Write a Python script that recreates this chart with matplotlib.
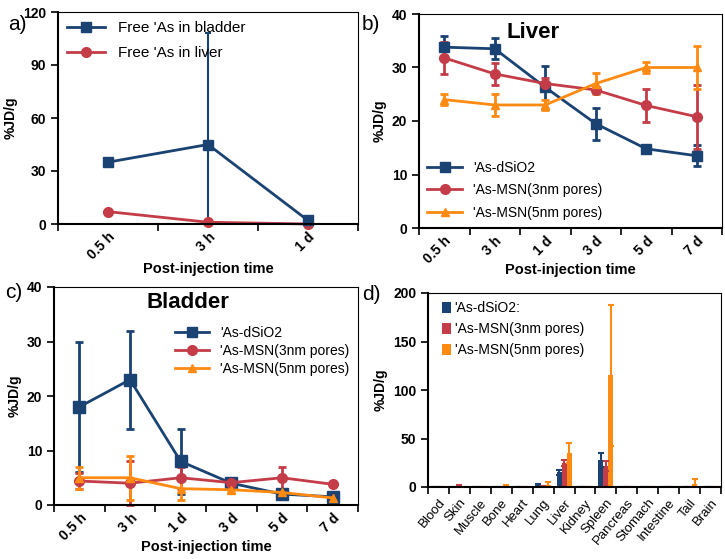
import numpy as np
import matplotlib
matplotlib.use('Agg')
import matplotlib.pyplot as plt
from matplotlib.lines import Line2D

plt.rcParams['font.family'] = ['Liberation Sans', 'DejaVu Sans']

# 颜色
c_blue = '#1a4272'
c_red = '#c33c48'
c_orange = '#ff8a12'

# a) 游离 As
times_a = ['0.5 h', '3 h', '1 d']
bladder_free = [35, 45, 2]
bladder_free_err = [0, 63, 0]
liver_free = [7, 1, 0]

# b) 肝脏
times = ['0.5 h', '3 h', '1 d', '3 d', '5 d', '7 d']
liver_dsio2 = [33.8, 33.5, 26.3, 19.5, 14.8, 13.5]
liver_dsio2_err = [2, 2, 4, 3, 0.5, 2]
liver_msn3 = [31.8, 28.8, 27.0, 25.8, 22.9, 20.8]
liver_msn3_err = [3, 2, 1, 0.5, 3, 6]
liver_msn5 = [24.0, 23.0, 23.0, 27.0, 30.0, 30.0]
liver_msn5_err = [1, 2, 1, 2, 1, 4]

# c) 膀胱
bladder_dsio2 = [18, 23, 8, 4, 2, 1.5]
bladder_dsio2_err = [12, 9, 6, 0.5, 0.5, 0.3]
bladder_msn3 = [4.4, 4.0, 5.0, 4.1, 5.0, 3.8]
bladder_msn3_err = [1.5, 4, 2, 0.3, 2, 0.3]
bladder_msn5 = [5.0, 5.0, 3.0, 2.8, 2.3, 1.3]
bladder_msn5_err = [2, 4, 2, 0.5, 0.5, 0.5]

# d) 组织分布
organs = ['Blood', 'Skin', 'Muscle', 'Bone', 'Heart', 'Lung', 'Liver', 'Kidney',
          'Spleen', 'Pancreas', 'Stomach', 'Intestine', 'Tail', 'Brain']
org_dsio2 = [0, 0.5, 0, 0.5, 0.3, 2.5, 15, 0, 28, 0, 0, 0, 0, 0]
org_dsio2_err = [0, 0, 0, 0, 0, 0.5, 3, 0, 7, 0, 0, 0, 0, 0]
org_msn3 = [0, 1.5, 0, 0.5, 0.5, 1.0, 25, 0, 22, 0, 0, 0, 0, 0]
org_msn3_err = [0, 0.3, 0, 0, 0, 0, 3, 0, 5, 0, 0, 0, 0, 0]
org_msn5 = [0, 0, 0, 1.5, 0.3, 2.5, 35, 0, 115, 0, 0, 0, 3, 0]
org_msn5_err = [0, 0, 0, 0.3, 0, 3, 10, 0, 73, 0, 0, 0, 5, 0]

lab_free_b = "Free \u02b9As in bladder"
lab_free_l = "Free \u02b9As in liver"
lab_d = "\u02b9As-dSiO2"
lab_3 = "\u02b9As-MSN(3nm pores)"
lab_5 = "\u02b9As-MSN(5nm pores)"

fig = plt.figure(figsize=(7.25, 5.59), dpi=100)


def spines(ax):
    for sp in ['left', 'bottom']:
        ax.spines[sp].set_linewidth(1.5)
    for sp in ['right', 'top']:
        ax.spines[sp].set_linewidth(0.8)


def style_ax(ax, ncat, labels, yticks, ylim):
    ax.set_xlim(0, ncat)
    ax.set_xticks(np.arange(ncat + 1))
    ax.set_xticklabels([])
    ax.set_xticks(np.arange(ncat) + 0.5, minor=True)
    ax.set_xticklabels(labels, minor=True, rotation=45, ha='right',
                       rotation_mode='anchor', fontsize=10, fontweight='bold')
    ax.tick_params(axis='x', which='minor', length=0, pad=4)
    ax.tick_params(axis='x', which='major', length=5, direction='out', width=1.2)
    ax.set_ylim(*ylim)
    ax.set_yticks(yticks)
    ax.set_yticklabels([str(t) for t in yticks], fontsize=10, fontweight='bold')
    ax.tick_params(axis='y', length=5, direction='out', width=1.2)
    spines(ax)
    ax.set_ylabel('%JD/g', fontsize=10, fontweight='bold')


def line_err(ax, x, y, e, color, marker, ms):
    ax.errorbar(x, y, yerr=e, color=color, marker=marker, ms=ms, lw=2,
                elinewidth=2, capsize=3, capthick=2, clip_on=False)


def leg_handles(specs):
    return [Line2D([0], [0], color=c, marker=m, ms=ms, lw=2) for c, m, ms in specs]


spec3 = [(c_blue, 's', 7), (c_red, 'o', 7), (c_orange, '^', 6)]

# a
axa = fig.add_axes([58 / 725, 1 - 224 / 559, 300 / 725, 212 / 559])
xa = np.arange(len(times_a)) + 0.5
axa.errorbar(xa, bladder_free, yerr=[[min(v, e) for v, e in zip(bladder_free, bladder_free_err)], bladder_free_err],
             color=c_blue, marker='s', ms=7, lw=2, elinewidth=1.5, capsize=2, capthick=1.5,
             clip_on=False)
axa.plot(xa, liver_free, color=c_red, marker='o', ms=7, lw=2, clip_on=False)
style_ax(axa, 3, times_a, [0, 30, 60, 90, 120], (0, 120))
axa.set_xlabel('Post-injection time', fontsize=10.5, fontweight='bold', labelpad=0)
axa.legend(leg_handles(spec3[:2]), [lab_free_b, lab_free_l], loc='upper left',
           frameon=False, fontsize=11, handlelength=2.5, borderaxespad=0.2, labelspacing=0.7)
fig.text(8 / 725, 1 - 24 / 559, 'a)', fontsize=15, va='center')

# b
axb = fig.add_axes([419 / 725, 1 - 228 / 559, 303 / 725, 214 / 559])
xb = np.arange(len(times)) + 0.5
line_err(axb, xb, liver_dsio2, liver_dsio2_err, c_blue, 's', 7)
line_err(axb, xb, liver_msn3, liver_msn3_err, c_red, 'o', 7)
line_err(axb, xb, liver_msn5, liver_msn5_err, c_orange, '^', 6)
style_ax(axb, 6, times, [0, 10, 20, 30, 40], (0, 40))
axb.set_xlabel('Post-injection time', fontsize=10.5, fontweight='bold', labelpad=-2)
axb.text(0.375, 0.915, 'Liver', transform=axb.transAxes, fontsize=16,
         fontweight='bold', ha='center', va='center')
axb.legend(leg_handles(spec3), [lab_d, lab_3, lab_5], loc='lower left', frameon=False,
           fontsize=10, handlelength=2.5, borderaxespad=0.2, labelspacing=0.6)
fig.text(362 / 725, 1 - 24 / 559, 'b)', fontsize=15, va='center')

# c
axc = fig.add_axes([54 / 725, 1 - 505 / 559, 304 / 725, 218 / 559])
line_err(axc, xb, bladder_dsio2, bladder_dsio2_err, c_blue, 's', 8)
line_err(axc, xb, bladder_msn3, bladder_msn3_err, c_red, 'o', 7)
line_err(axc, xb, bladder_msn5, bladder_msn5_err, c_orange, '^', 6)
style_ax(axc, 6, times, [0, 10, 20, 30, 40], (0, 40))
axc.set_xlabel('Post-injection time', fontsize=10.5, fontweight='bold', labelpad=-2)
axc.text(0.44, 0.93, 'Bladder', transform=axc.transAxes, fontsize=16,
         fontweight='bold', ha='center', va='center')
axc.legend(leg_handles(spec3), [lab_d, lab_3, lab_5], loc='upper right',
           bbox_to_anchor=(1.0, 0.86), frameon=False, fontsize=10,
           handlelength=2.5, borderaxespad=0.2, labelspacing=0.3)
fig.text(5 / 725, 1 - 292 / 559, 'c)', fontsize=15, va='center')

# d
axd = fig.add_axes([428 / 725, 1 - 487 / 559, 293 / 725, 194 / 559])
xd = np.arange(len(organs)) + 0.5
w = 0.24
for off, vals, errs, col, lab in [(-w, org_dsio2, org_dsio2_err, c_blue, lab_d + ':'),
                                  (0, org_msn3, org_msn3_err, c_red, lab_3),
                                  (w, org_msn5, org_msn5_err, c_orange, lab_5)]:
    axd.bar(xd + off, vals, width=w, color=col, label=lab,
            yerr=errs, ecolor=col, capsize=2.5, error_kw={'elinewidth': 1.5, 'capthick': 1.5})
axd.set_xlim(0, len(organs))
axd.set_xticks(np.arange(len(organs) + 1))
axd.set_xticklabels([])
axd.set_xticks(xd, minor=True)
axd.set_xticklabels(organs, minor=True, rotation=50, ha='right',
                    rotation_mode='anchor', fontsize=9.5)
axd.tick_params(axis='x', which='minor', length=0, pad=7)
axd.tick_params(axis='x', which='major', length=5, direction='out', width=1.2)
axd.set_ylim(0, 200)
axd.set_yticks([0, 50, 100, 150, 200])
axd.set_yticklabels(['0', '50', '100', '150', '200'], fontsize=10, fontweight='bold')
axd.tick_params(axis='y', length=5, direction='out', width=1.2)
spines(axd)
axd.set_ylabel('%JD/g', fontsize=10, fontweight='bold')
axd.legend(loc='upper left', bbox_to_anchor=(0.02, 1.0), frameon=False, fontsize=10,
           handlelength=0.6, handleheight=0.9, handletextpad=0.3,
           borderaxespad=0.2, labelspacing=0.5)
fig.text(362 / 725, 1 - 295 / 559, 'd)', fontsize=15, va='center')

fig.savefig('out.png', dpi=100)
